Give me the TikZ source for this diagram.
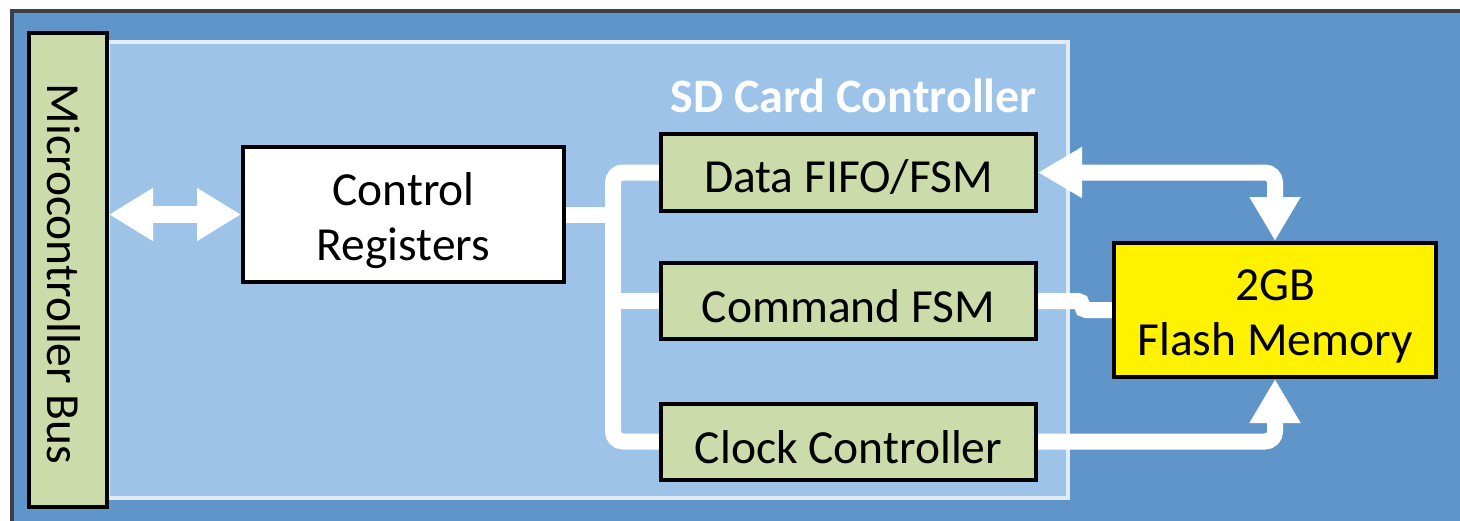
\documentclass[tikz,border=0pt]{standalone}
\usepackage{fontspec}
\setmainfont{Carlito}
\usetikzlibrary{arrows.meta}
\pgfdeclarelayer{back}
\pgfdeclarelayer{mid}
\pgfsetlayers{back,mid,main}
\definecolor{outerblue}{HTML}{5F95C8}
\definecolor{innerblue}{HTML}{9DC3E8}
\definecolor{innerline}{HTML}{E2ECF8}
\definecolor{boxgreen}{HTML}{CBDBA9}
\definecolor{frame}{HTML}{3C4046}
\tikzset{
  blk/.style={draw=black, line width=4, inner sep=0pt},
  txt/.style={inner sep=0pt, align=center, text=black,
    font=\fontsize{47.5}{55}\selectfont},
  conn/.style={draw=white, line width=16},
  bigtip/.tip={Triangle[width=48pt,length=44pt]},
  bustip/.tip={Triangle[width=50pt,length=44pt]}
}
\begin{document}
\begin{tikzpicture}[x=1pt,y=-1pt]
\useasboundingbox (0,0) rectangle (1460,520);
\begin{pgfonlayer}{back}
  \fill[white] (0,0) rectangle (1460,520);
  \draw[frame, fill=outerblue, line width=4] (12,11) rectangle (1480,540);
  \draw[innerline, fill=innerblue, line width=4] (108,42) rectangle (1068,498);
\end{pgfonlayer}
\node[anchor=east, text=white, inner sep=0pt, font=\fontsize{48}{55}\selectfont\bfseries] (title) at (1037,96) {SD Card Controller};
\node[blk, fill=boxgreen, minimum width=78, minimum height=474,
  label={[txt, xshift=-4pt, yshift=-4pt]center:\rotatebox{-90}{Microcontroller Bus}}] (bus) at (68,270) {};
\node[blk, fill=white, minimum width=321, minimum height=135,
  label={[txt, yshift=-6pt]center:Control\\Registers}] (ctrl) at (403.5,214.5) {};
\node[blk, fill=boxgreen, minimum width=375, minimum height=77,
  label={[txt, yshift=-5pt]center:Data FIFO/FSM}] (data) at (848.5,172.5) {};
\node[blk, fill=boxgreen, minimum width=375, minimum height=76,
  label={[txt, yshift=-5pt]center:Command FSM}] (cmd) at (848.5,301) {};
\node[blk, fill=boxgreen, minimum width=375, minimum height=76,
  label={[txt, yshift=-6pt]center:Clock Controller}] (clock) at (848.5,441.5) {};
\node[blk, fill=yellow, minimum width=322, minimum height=134,
  label={[txt, yshift=-6pt]center:2GB\\Flash Memory}] (flash) at (1275,310) {};
\coordinate (tr) at (613,0);
\begin{pgfonlayer}{mid}
  \draw[conn, line width=17, {bustip}-{bustip}] (bus.east |- ctrl.west) -- (ctrl.west);
  \draw[conn] (ctrl.east) -- (ctrl.east -| tr);
  \draw[conn, rounded corners=10] (data.west) -| (tr |- clock.west) -- (clock.west);
  \draw[conn] (tr |- cmd.west) -- (cmd.west);
  \draw[conn, rounded corners=10, {bigtip}-{bigtip}] (data.east) -| (flash.north);
  \draw[conn, rounded corners=4] (cmd.east) -- ++(44,0) |- (flash.west);
  \draw[conn, rounded corners=10, -{bigtip}] (clock.east) -| (flash.south);
\end{pgfonlayer}
\end{tikzpicture}
\end{document}
